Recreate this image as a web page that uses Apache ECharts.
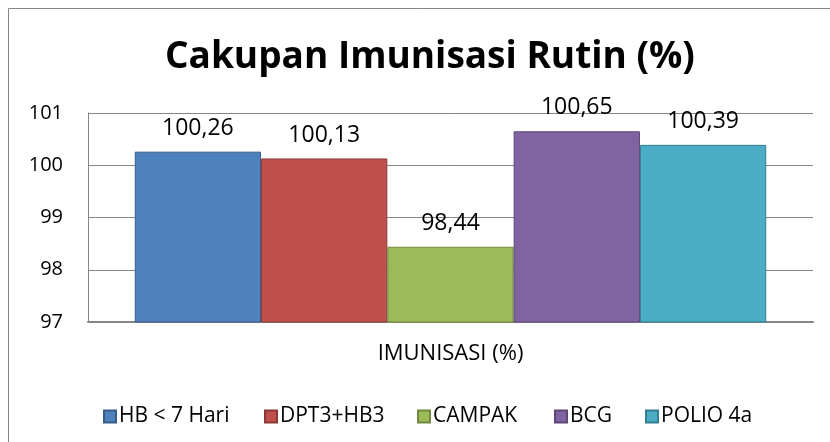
<!DOCTYPE html>
<html><head><meta charset="utf-8">
<script src="https://cdn.jsdelivr.net/npm/echarts@6/dist/echarts.min.js"></script>
<style>html,body{margin:0;padding:0;background:#fff}#c{width:830px;height:442px}</style>
</head><body><div id="c"></div>
<script>
const categories = ['IMUNISASI (%)'];
const seriesNames = ['HB < 7 Hari', 'DPT3+HB3', 'CAMPAK', 'BCG', 'POLIO 4a'];
const seriesValues = [100.26, 100.13, 98.44, 100.65, 100.39];
const yTicks = [97, 98, 99, 100, 101];
const fills = ['#4F81BD', '#C0504D', '#9BBB59', '#8064A2', '#4BACC6'];
const borders = ['#385D8A', '#8C3836', '#71893F', '#5C4776', '#357D91'];
const legendLeft = [103, 264, 417, 554, 645];
const FONT = "'Open Sans', 'Noto Sans', sans-serif";

const chart = echarts.init(document.getElementById('c'), null, {renderer: 'canvas'});
chart.setOption({
  animation: false,
  textStyle: {fontFamily: FONT},
  graphic: [{type: 'rect', shape: {x: 8.5, y: 8.5, width: 900, height: 600},
    style: {fill: 'none', stroke: '#868686', lineWidth: 1}, z: -1}],
  title: {text: 'Cakupan Imunisasi Rutin (%)', left: 160, top: 34,
    textStyle: {fontFamily: FONT, fontSize: 37, fontWeight: 'bold', color: '#000'}},
  grid: {left: 88, right: 17, top: 113, height: 209},
  xAxis: {type: 'category', data: categories,
    axisLine: {lineStyle: {color: '#868686', width: 2}}, axisTick: {show: false},
    axisLabel: {fontSize: 22, color: '#000', margin: 21, fontFamily: FONT}},
  yAxis: {type: 'value', min: yTicks[0], max: yTicks[yTicks.length - 1], interval: 1,
    axisLine: {show: true, lineStyle: {color: '#868686'}}, axisTick: {show: false},
    splitLine: {lineStyle: {color: '#868686', width: 1}},
    axisLabel: {fontSize: 20, color: '#000', margin: 25, fontFamily: FONT}},
  legend: seriesNames.map((n, i) => ({
    top: 401, left: legendLeft[i] - 5, itemWidth: 12, itemHeight: 12,
    icon: 'rect', textStyle: {fontSize: 21, color: '#000', fontFamily: FONT, padding: [0, 0, 0, -2]},
    data: [n]})),
  series: seriesNames.map((n, i) => ({
    name: n, type: 'bar', data: [seriesValues[i]],
    barGap: '0%', barCategoryGap: '12.9%',
    itemStyle: {color: fills[i], borderColor: borders[i], borderWidth: 1},
    label: {show: true, position: 'top', distance: 12, fontSize: 23, color: '#000', fontFamily: FONT,
      formatter: p => p.value.toFixed(2).replace('.', ',')}
  }))
});
</script></body></html>
